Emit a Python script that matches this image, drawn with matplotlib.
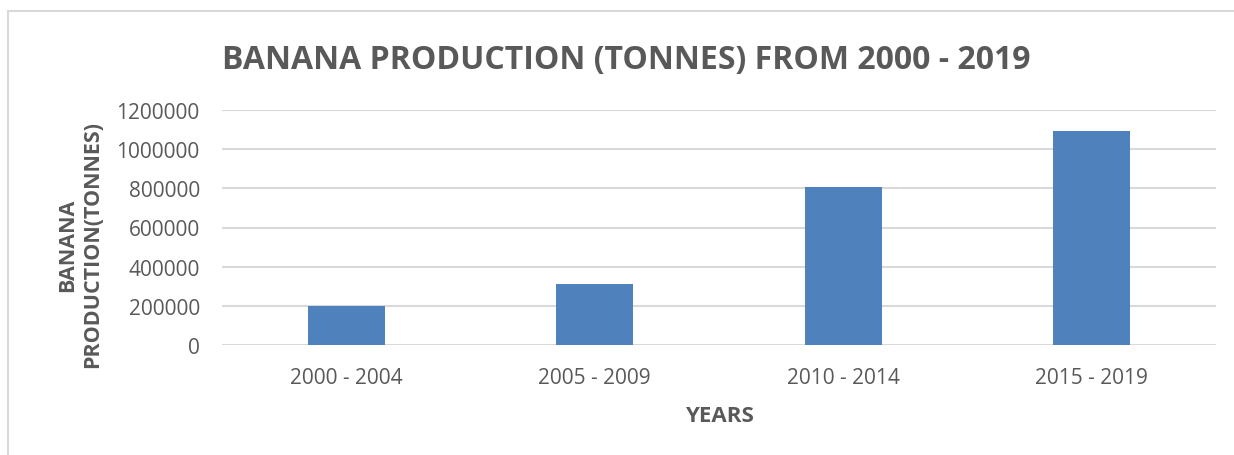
import matplotlib.pyplot as plt
from matplotlib.patches import Rectangle

# data
periods = ['2000 - 2004', '2005 - 2009', '2010 - 2014', '2015 - 2019']
production = [200000, 311000, 807000, 1093000]
yticks = [0, 200000, 400000, 600000, 800000, 1000000, 1200000]

plt.rcParams['font.family'] = ['Open Sans', 'DejaVu Sans']
text_col = '#595959'
grid_col = '#D9D9D9'

fig = plt.figure(figsize=(12.34, 4.56), dpi=100)
W, H = 1234, 456

# chart border (cropped at right and bottom like the screenshot)
fig.patches.append(Rectangle((8 / W, -0.1), 1.2, 1 - 12 / H + 0.1,
                             transform=fig.transFigure, fill=False,
                             edgecolor=grid_col, linewidth=1.5))

ax = fig.add_axes([222 / W, 1 - 346 / H, (1216 - 222) / W, (346 - 111) / H])
x = range(len(periods))
ax.bar(x, production, width=0.31, color='#4F81BD', zorder=3)

ax.set_xlim(-0.5, 3.5)
ax.set_ylim(0, 1200000)
ax.set_yticks(yticks)
ax.set_yticklabels([str(v) for v in yticks])
ax.set_xticks(list(x))
ax.set_xticklabels(periods)
ax.grid(axis='y', color=grid_col, linewidth=1.5, zorder=0)
for s in ax.spines.values():
    s.set_visible(False)
ax.tick_params(axis='both', length=0, labelsize=15, labelcolor=text_col)
ax.tick_params(axis='y', pad=16)
ax.tick_params(axis='x', pad=16)

ax.set_xlabel('YEARS', fontsize=16, fontweight='bold', color=text_col, labelpad=12)
ax.set_ylabel('BANANA\nPRODUCTION(TONNES)', fontsize=15.5, fontweight='bold',
              color=text_col, linespacing=1.2)
ax.yaxis.set_label_coords(-0.12, 0.43)

fig.text(626 / W, 1 - 60 / H, 'BANANA PRODUCTION (TONNES) FROM 2000 - 2019',
         ha='center', va='center', fontsize=23, fontweight='bold', color=text_col)

fig.savefig('out.png', dpi=100)
